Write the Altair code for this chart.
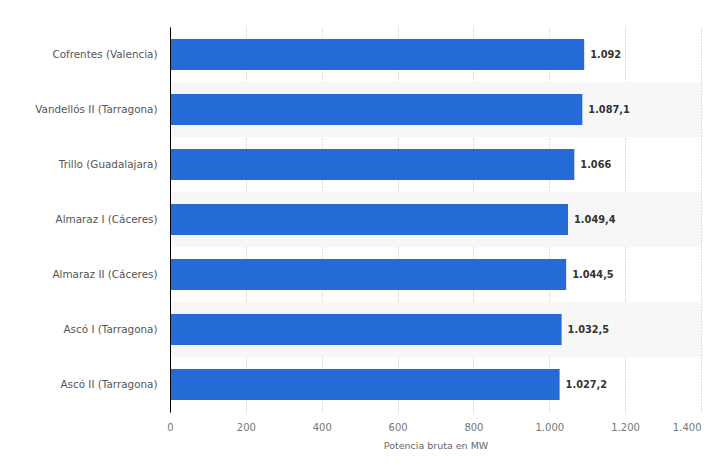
import altair as alt
import pandas as pd

plants = [
    "Cofrentes (Valencia)",
    "Vandellós II (Tarragona)",
    "Trillo (Guadalajara)",
    "Almaraz I (Cáceres)",
    "Almaraz II (Cáceres)",
    "Ascó I (Tarragona)",
    "Ascó II (Tarragona)",
]
power_mw = [1092, 1087.1, 1066, 1049.4, 1044.5, 1032.5, 1027.2]
x_ticks = [0, 200, 400, 600, 800, 1000, 1200, 1400]


def es_fmt(v):
    if float(v).is_integer():
        s = f"{int(v):,}"
    else:
        s = f"{v:,.1f}"
    return s.replace(",", "#").replace(".", ",").replace("#", ".")


df = pd.DataFrame({
    "plant": plants,
    "value": power_mw,
    "label": [es_fmt(v) for v in power_mw],
    "shade": [i % 2 == 1 for i in range(len(plants))],
})

FONT = "DejaVu Sans"
W, H = 531, 385
pad_inner = 24 / 55

y_enc = alt.Y(
    "plant:N",
    sort=plants,
    scale=alt.Scale(paddingInner=pad_inner, paddingOuter=pad_inner / 2),
    axis=alt.Axis(
        title=None,
        domain=True,
        domainColor="#000000",
        domainWidth=1,
        ticks=False,
        grid=False,
        labelPadding=13,
        labelFont=FONT,
        labelFontSize=10.4,
        labelColor="#555555",
        labelLimit=300,
        zindex=2,
    ),
)

base = alt.Chart(df)

bands = base.transform_filter("datum.shade").mark_bar(
    color="#f7f7f7", height=alt.RelativeBandSize(1 / (1 - pad_inner))
).encode(
    y=alt.Y("plant:N", sort=plants),
    x=alt.value(0),
    x2=alt.value(W),
)

x_enc = alt.X(
    "value:Q",
    scale=alt.Scale(domain=[0, 1400], nice=False),
    axis=alt.Axis(
        values=x_ticks,
        title="Potencia bruta en MW",
        titleFont=FONT,
        titleFontSize=9.5,
        titleFontWeight="normal",
        titleColor="#666666",
        titlePadding=8,
        labelFont=FONT,
        labelFontSize=10,
        labelColor="#777777",
        labelPadding=10,
        labelAlign={"condition": {"test": "datum.value == 1400", "value": "right"}, "value": "center"},
        labelExpr="replace(format(datum.value, ','), ',', '.')",
        domain=False,
        ticks=False,
        grid=True,
        gridColor="#bbbbbb",
        gridDash=[1, 2],
        gridWidth=1,
        zindex=0,
    ),
)

bars = base.mark_bar(color="#246bd8").encode(x=x_enc, y=y_enc)

texts = base.mark_text(
    align="left", baseline="middle", dx=6,
    font=FONT, fontSize=9.8, fontWeight="bold", color="#333333",
).encode(x="value:Q", y=alt.Y("plant:N", sort=plants), text="label:N")

chart = (
    alt.layer(bands, bars, texts)
    .properties(
        width=W,
        height=H,
        autosize=alt.AutoSizeParams(type="none"),
        padding={"left": 162, "top": 19, "right": 5, "bottom": 40},
    )
    .configure_view(stroke=None)
)

chart.save("out.html", embed_options={"renderer": "svg", "actions": False})
